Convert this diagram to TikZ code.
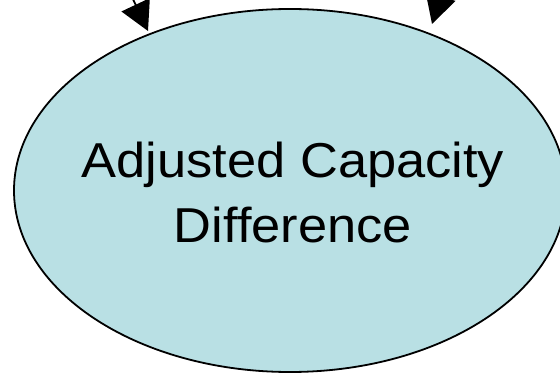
\documentclass[tikz,border=0pt]{standalone}
\usepackage{fontspec}
\setmainfont{Liberation Sans}[FakeStretch=1.07]
\usetikzlibrary{shapes.geometric,arrows.meta}
\definecolor{ellfill}{RGB}{185,224,228}
\begin{document}
\begin{tikzpicture}[x=1pt,y=-1pt,
  bubble/.style={ellipse,draw=black,line width=1.8pt,fill=ellfill,
    minimum width=552pt,minimum height=363pt,inner sep=0pt},
  lbl/.style={align=center,font=\fontsize{49}{65}\selectfont,inner sep=0pt},
  arr/.style={draw=black,line width=1.8pt,-{Triangle[length=29pt,width=31pt]}}]
\useasboundingbox (0,0) rectangle (560,374);
\clip (0,0) rectangle (560,374);
\fill[white] (0,0) rectangle (560,374);
\node[bubble] (diff) at (290,190.5) {};
\node[lbl] (txt) at (293,192) {Adjusted Capacity\\Difference};
\coordinate (s1) at (122.4,-23.3);
\coordinate (t1) at (148,31);
\coordinate (s2) at (449.7,-33.4);
\coordinate (t2) at (432,24);
\draw[arr] (s1) -- (t1);
\draw[arr] (s2) -- (t2);
\end{tikzpicture}
\end{document}
